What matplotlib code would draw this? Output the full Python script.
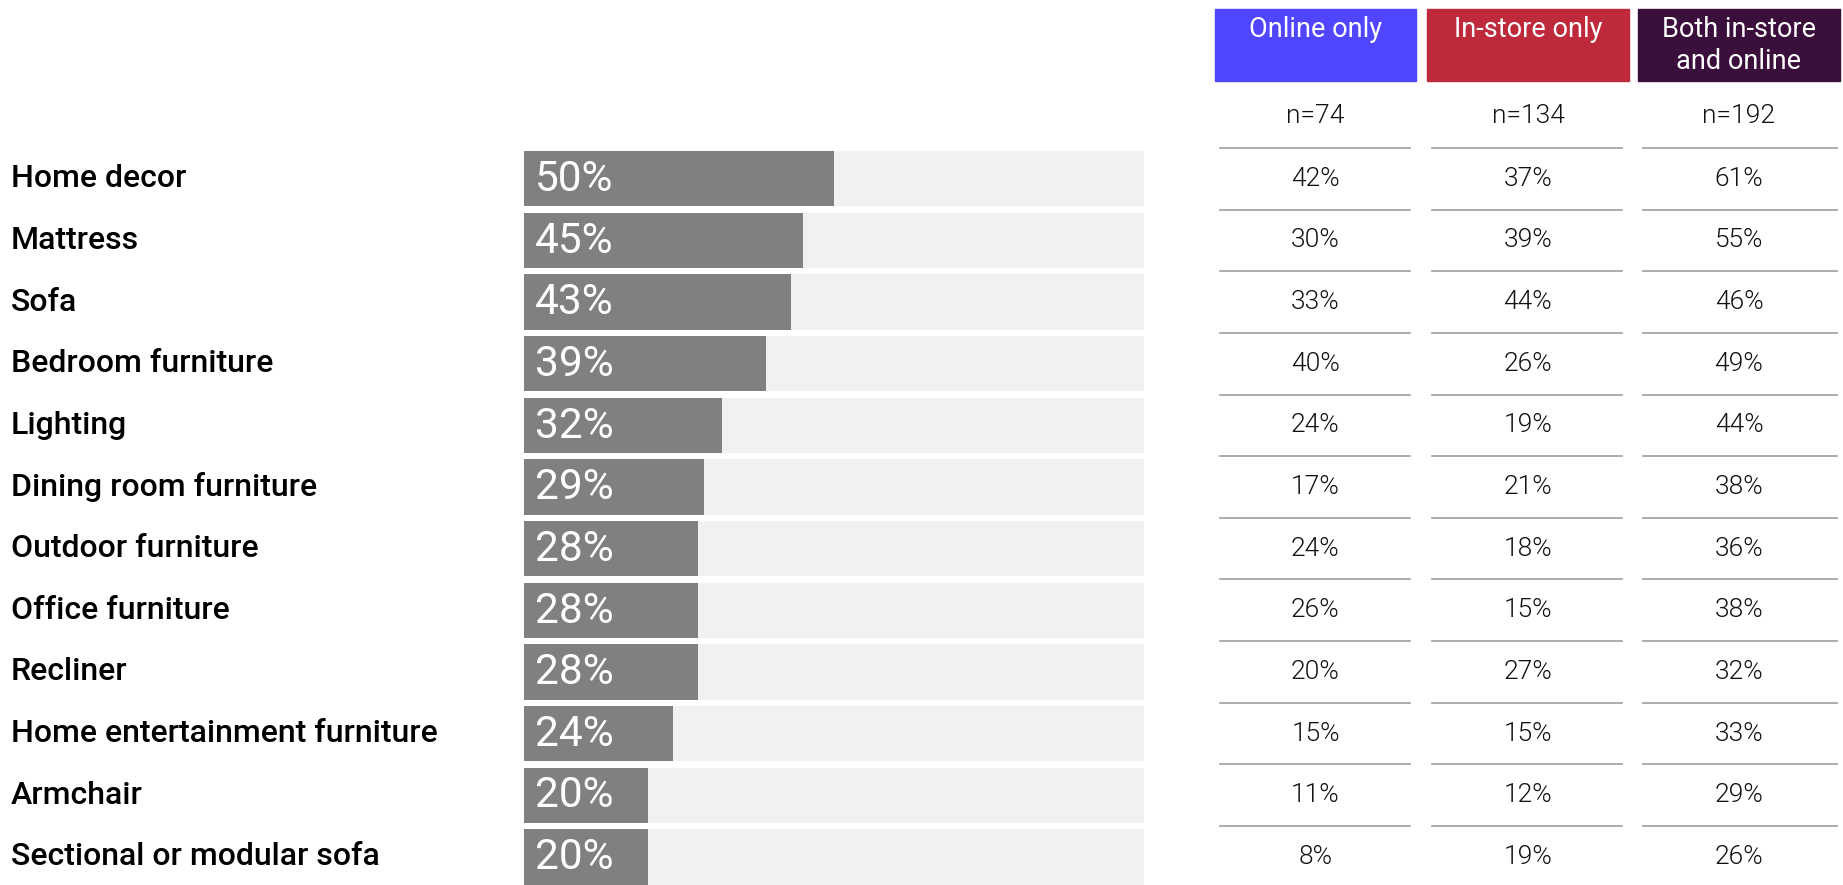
import matplotlib
matplotlib.use("Agg")
import matplotlib.pyplot as plt
import matplotlib.transforms as mtransforms
from matplotlib.patches import Rectangle

plt.rcParams['font.family'] = ['Roboto', 'DejaVu Sans']

# Donnees
categories = ["Home decor", "Mattress", "Sofa", "Bedroom furniture", "Lighting",
              "Dining room furniture", "Outdoor furniture", "Office furniture",
              "Recliner", "Home entertainment furniture", "Armchair",
              "Sectional or modular sofa"]
total = [50, 45, 43, 39, 32, 29, 28, 28, 28, 24, 20, 20]

groupes = ["Online only", "In-store only", "Both in-store\nand online"]
couleurs_groupes = ["#5046FF", "#BE2A3C", "#3B0F3B"]
effectifs = ["n=74", "n=134", "n=192"]
online = [42, 30, 33, 40, 24, 17, 24, 26, 20, 15, 11, 8]
in_store = [37, 39, 44, 26, 19, 21, 18, 15, 27, 15, 12, 19]
both = [61, 55, 46, 49, 44, 38, 36, 38, 32, 33, 29, 26]
colonnes = [online, in_store, both]

W, H = 1843, 885
fig = plt.figure(figsize=(W / 100, H / 100), dpi=100)

# rangées : centre de la premiere a 178.7 px, pas de 61.66 px
y0, pas = 178.7, 61.66
haut = (y0 - 0.5 * pas)
bas = y0 + (len(categories) - 0.5) * pas
ax = fig.add_axes([524 / W, 1 - bas / H, 620 / W, (bas - haut) / H])
ax.set_xlim(0, 100)
ax.set_ylim(len(categories) - 0.5, -0.5)
ax.axis("off")


def py(px):
    # pixel vertical -> unite de donnees de l'axe
    return (px - y0) / pas


pos = range(len(categories))
ax.barh(pos, [100] * len(categories), height=0.9, color="#F1F1F1")
ax.barh(pos, total, height=0.9, color="#808080")

trans = mtransforms.blended_transform_factory(fig.transFigure, ax.transData)
for i, (cat, v) in enumerate(zip(categories, total)):
    ax.text(11 / W, i, cat, transform=trans, ha="left", va="center",
            fontsize=23, fontweight="medium", color="#000000")
    ax.annotate(f"{v}%", (0, i), xytext=(8, -0.5), textcoords="offset points",
                ha="left", va="center", fontsize=30.5, color="white")

# tableau de droite (poids 300 = Roboto Light)
bords = [(1215, 1416), (1427, 1629), (1638, 1840)]
lignes = [(1220, 1410), (1432, 1622), (1643, 1837)]
for j, (g, c, n, vals) in enumerate(zip(groupes, couleurs_groupes, effectifs, colonnes)):
    x1, x2 = bords[j]
    ax.add_patch(Rectangle((x1 / W, py(9)), (x2 - x1) / W, py(81) - py(9),
                           transform=trans, color=c, clip_on=False))
    xc = (x1 + x2) / 2 / W
    ax.text(xc, py(16), g, transform=trans, ha="center", va="top",
            fontsize=19.5, color="white", linespacing=1.25)
    ax.text(xc, py(116), n, transform=trans, ha="center", va="center",
            fontsize=19, fontweight=300, color="#111111")
    l1, l2 = lignes[j]
    for k in range(len(categories)):
        ax.plot([l1 / W, l2 / W], [k - 0.5, k - 0.5], transform=trans,
                color="#9E9E9E", lw=1.2, clip_on=False)
        ax.text(xc, k, f"{vals[k]}%", transform=trans, ha="center", va="center",
                fontsize=19, fontweight=300, color="#111111")

fig.savefig("out.png", dpi=100)
